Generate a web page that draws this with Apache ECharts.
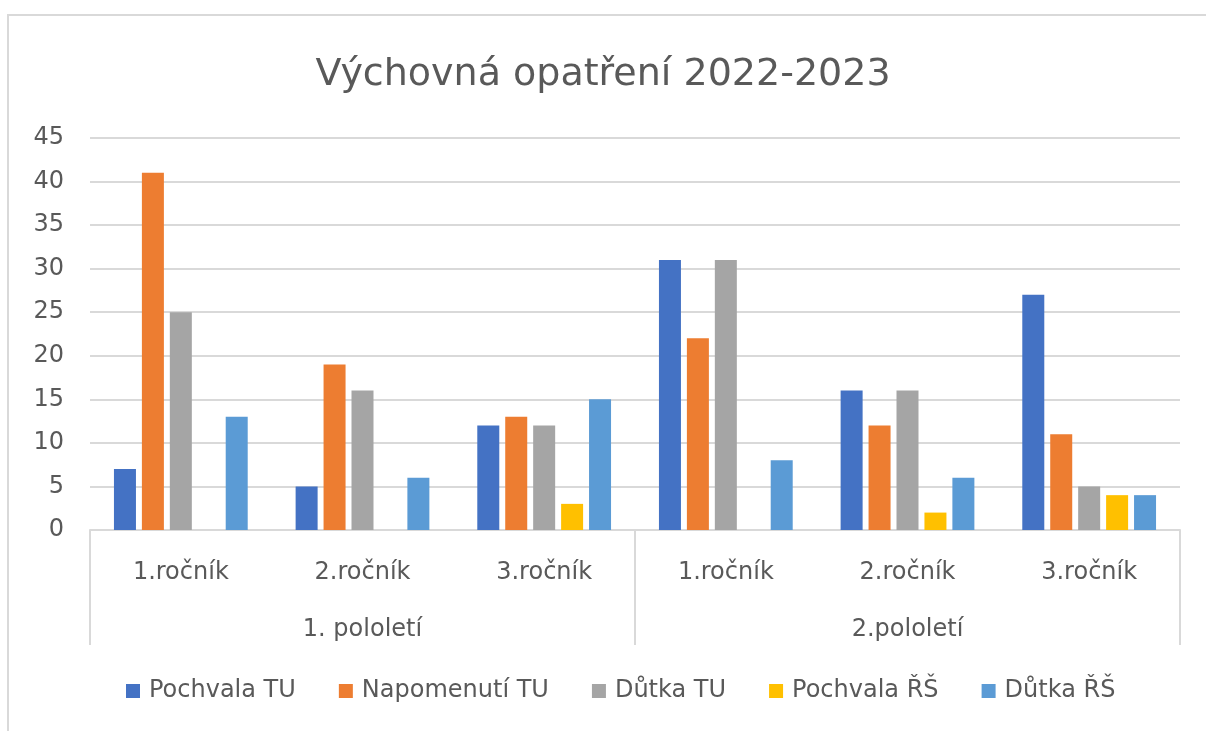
<!DOCTYPE html>
<html>
<head>
<meta charset="utf-8">
<script src="https://cdn.jsdelivr.net/npm/echarts@6/dist/echarts.min.js"></script>
<style>
	html, body { margin: 0; padding: 0; background: #fff; }
	#chart { width: 1206px; height: 731px; }
</style>
</head>
<body>
<div id="chart"></div>
<script>
const rocniky = ['1.ročník', '2.ročník', '3.ročník', '1.ročník', '2.ročník', '3.ročník']
const pololeti = ['1. pololetí', '2.pololetí']
const seriesNames = ['Pochvala TU', 'Napomenutí TU', 'Důtka TU', 'Pochvala ŘŠ', 'Důtka ŘŠ']
const pochvalaTU = [7, 5, 12, 31, 16, 27]
const napomenutiTU = [41, 19, 13, 22, 12, 11]
const dutkaTU = [25, 16, 12, 31, 16, 5]
const pochvalaRS = [0, 0, 3, 0, 2, 4]
const dutkaRS = [13, 6, 15, 8, 6, 4]
const colors = ['#4472C4', '#ED7D31', '#A5A5A5', '#FFC000', '#5B9BD5']

const font = '"DejaVu Sans", sans-serif'
const textColor = '#595959'
const values = [pochvalaTU, napomenutiTU, dutkaTU, pochvalaRS, dutkaRS]

const chart = echarts.init(document.getElementById('chart'))
chart.setOption({
	animation: false,
	color: colors,
	textStyle: { fontFamily: font },
	title: {
		text: 'Výchovná opatření 2022-2023',
		left: 'center',
		top: 51,
		textStyle: { fontFamily: font, fontSize: 38, fontWeight: 'normal', color: textColor }
	},
	graphic: [{
		type: 'rect',
		shape: { x: 8, y: 15, width: 1210, height: 730 },
		style: { fill: 'none', stroke: '#d9d9d9', lineWidth: 2 },
		silent: true
	}],
	legend: {
		bottom: 23,
		left: 121,
		itemWidth: 14,
		itemHeight: 14,
		itemGap: 43,
		icon: 'rect',
		textStyle: { fontFamily: font, fontSize: 24, color: textColor, padding: [0, 0, 0, 4] },
		data: seriesNames
	},
	grid: { left: 90, right: 26, top: 138, bottom: 201 },
	xAxis: [{
		type: 'category',
		data: rocniky,
		position: 'bottom',
		axisLine: { lineStyle: { color: '#d9d9d9', width: 2 } },
		axisTick: { show: false },
		axisLabel: { fontFamily: font, fontSize: 24, color: textColor, margin: 31 }
	}, {
		type: 'category',
		data: pololeti,
		position: 'bottom',
		axisLine: { show: false },
		axisTick: { show: true, length: 115, lineStyle: { color: '#d9d9d9', width: 2 } },
		axisLabel: { fontFamily: font, fontSize: 24, color: textColor, margin: 88 }
	}],
	yAxis: {
		type: 'value',
		min: 0,
		max: 45,
		interval: 5,
		axisLine: { show: false },
		axisTick: { show: false },
		axisLabel: { fontFamily: font, fontSize: 24, color: textColor, margin: 26 },
		splitLine: { lineStyle: { color: '#d9d9d9', width: 2 } }
	},
	series: seriesNames.map((name, i) => ({
		name,
		type: 'bar',
		xAxisIndex: 0,
		barWidth: 22,
		barGap: '27%',
		data: values[i]
	}))
})
</script>
</body>
</html>
